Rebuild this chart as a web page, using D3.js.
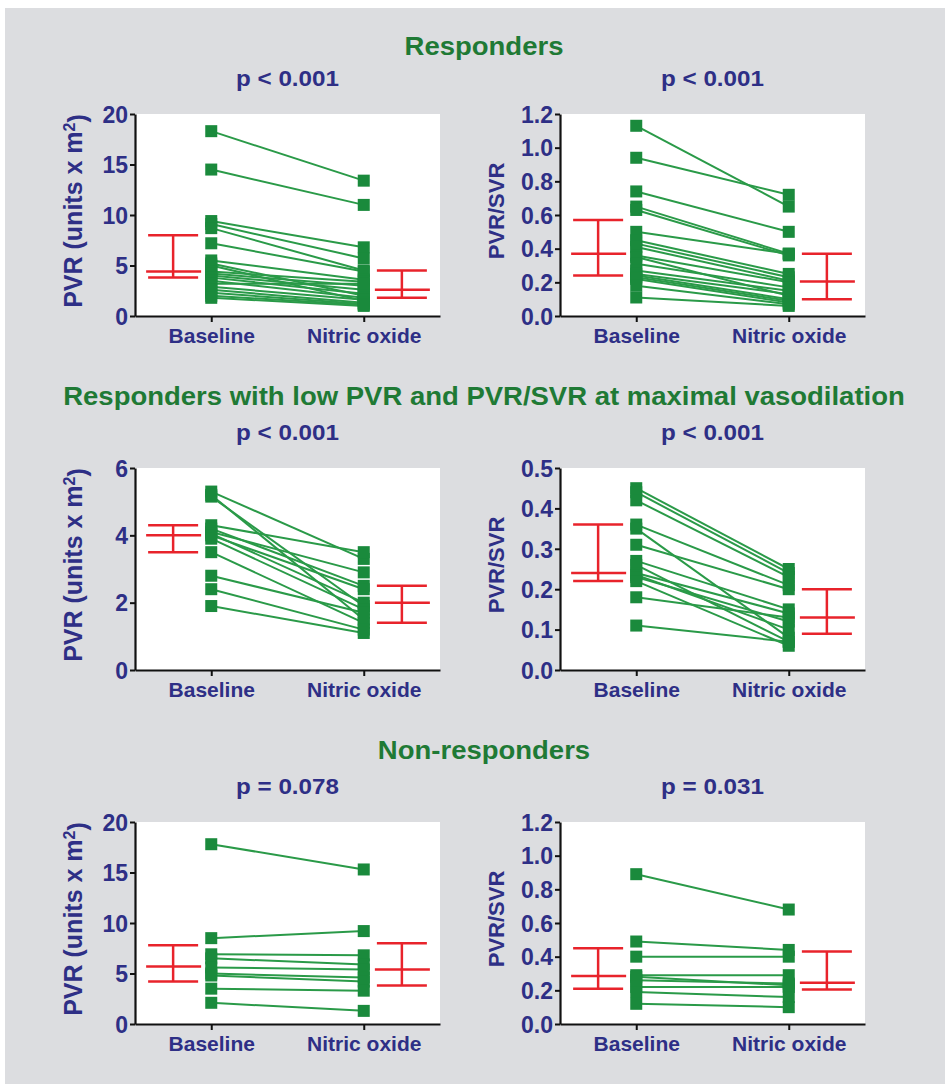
<!DOCTYPE html>
<html>
<head>
<meta charset="utf-8">
<script src="https://cdn.jsdelivr.net/npm/d3@7"></script>
<style>
  body { margin: 0; background: #fff; }
  svg { display: block; }
</style>
</head>
<body>
<div id="container"></div>
<script>
// --- data ---
var groups = ["Baseline", "Nitric oxide"];

// paired values [baseline, nitric oxide]
var respPVR = [[18.3, 13.4], [14.5, 11.0], [9.4, 6.8], [9.1, 5.7], [8.7, 4.5], [7.2, 4.4],
  [5.5, 3.6], [5.2, 2.0], [5.0, 1.5], [4.4, 3.4], [4.2, 3.0], [4.0, 2.6], [3.8, 2.2],
  [3.5, 1.8], [3.2, 3.2], [2.9, 1.6], [2.6, 1.3], [2.3, 1.2], [2.0, 1.1], [1.8, 1.0]];
var respRatio = [[1.13, 0.65], [0.94, 0.72], [0.74, 0.50], [0.65, 0.37], [0.63, 0.36],
  [0.50, 0.37], [0.45, 0.25], [0.43, 0.23], [0.41, 0.21], [0.36, 0.20], [0.35, 0.12],
  [0.31, 0.17], [0.27, 0.15], [0.25, 0.13], [0.24, 0.10], [0.23, 0.09], [0.22, 0.08],
  [0.18, 0.07], [0.11, 0.06]];
var lowPVR = [[5.3, 3.3], [5.2, 1.5], [5.15, 1.9], [4.3, 3.5], [4.2, 2.5], [4.1, 2.9],
  [4.05, 2.0], [4.0, 2.4], [3.9, 1.8], [3.5, 1.4], [2.8, 1.7], [2.4, 1.2], [1.9, 1.1]];
var lowRatio = [[0.45, 0.25], [0.44, 0.24], [0.42, 0.23], [0.36, 0.21], [0.35, 0.08],
  [0.31, 0.20], [0.27, 0.15], [0.26, 0.07], [0.24, 0.14], [0.235, 0.10], [0.23, 0.12],
  [0.22, 0.06], [0.18, 0.13], [0.11, 0.07]];
var nonPVR = [[17.8, 15.3], [8.5, 9.2], [6.9, 6.8], [6.5, 5.9], [5.6, 5.4], [5.0, 4.6],
  [4.8, 4.2], [3.5, 3.3], [2.1, 1.3]];
var nonRatio = [[0.89, 0.68], [0.49, 0.44], [0.40, 0.40], [0.29, 0.29], [0.28, 0.23],
  [0.26, 0.24], [0.22, 0.22], [0.19, 0.16], [0.12, 0.10]];

// median + interquartile range [low, median, high] for baseline / nitric oxide
var respPVRStats = [[3.8, 4.4, 8.0], [1.8, 2.6, 4.5]];
var respRatioStats = [[0.24, 0.37, 0.57], [0.10, 0.205, 0.37]];
var lowPVRStats = [[3.5, 4.0, 4.3], [1.4, 2.0, 2.5]];
var lowRatioStats = [[0.22, 0.24, 0.36], [0.09, 0.13, 0.20]];
var nonPVRStats = [[4.2, 5.7, 7.8], [3.8, 5.4, 8.0]];
var nonRatioStats = [[0.21, 0.285, 0.45], [0.205, 0.245, 0.43]];

var sectionTitles = ["Responders", "Responders with low PVR and PVR/SVR at maximal vasodilation", "Non-responders"];
var pLabels = ["p < 0.001", "p < 0.001", "p < 0.001", "p < 0.001", "p = 0.078", "p = 0.031"];

var pvrTicks = [0, 5, 10, 15, 20];
var ratioTicks = [0, 0.2, 0.4, 0.6, 0.8, 1.0, 1.2];
var lowPvrTicks = [0, 2, 4, 6];
var lowRatioTicks = [0, 0.1, 0.2, 0.3, 0.4, 0.5];

// --- layout ---
var W = 945, H = 1084;
var navy = "#2e2f86", green = "#1f7a35", dotGreen = "#1a8a3c", lineGreen = "#2a9a48", red = "#e8232b";
var font = "'Liberation Sans', Arial, sans-serif";

var svg = d3.select("#container").append("svg")
  .attr("width", W).attr("height", H);

svg.append("rect").attr("x", 5).attr("y", 8).attr("width", W - 5).attr("height", H - 8)
  .attr("fill", "#dcdde0");

var colLeft = [135, 560];
var rowTop = [114, 468, 822];
var plotW = 305, plotH = 202;

var panels = [
  { data: respPVR, stats: respPVRStats, ticks: pvrTicks, max: 20, fmt: d3.format("d"), pvr: true },
  { data: respRatio, stats: respRatioStats, ticks: ratioTicks, max: 1.2, fmt: d3.format(".1f"), pvr: false },
  { data: lowPVR, stats: lowPVRStats, ticks: lowPvrTicks, max: 6, fmt: d3.format("d"), pvr: true },
  { data: lowRatio, stats: lowRatioStats, ticks: lowRatioTicks, max: 0.5, fmt: d3.format(".1f"), pvr: false },
  { data: nonPVR, stats: nonPVRStats, ticks: pvrTicks, max: 20, fmt: d3.format("d"), pvr: true },
  { data: nonRatio, stats: nonRatioStats, ticks: ratioTicks, max: 1.2, fmt: d3.format(".1f"), pvr: false }
];

// section titles (the original is a little stretched sideways)
var titleY = [55, 405, 759];
sectionTitles.forEach(function (t, i) {
  svg.append("text")
    .attr("transform", "translate(484," + titleY[i] + ") scale(1.1,1)")
    .attr("text-anchor", "middle")
    .style("font-family", font).style("font-weight", "bold")
    .style("font-size", "25px").style("fill", green)
    .text(t);
});

panels.forEach(function (p, i) {
  var col = i % 2, row = Math.floor(i / 2);
  var g = svg.append("g")
    .attr("transform", "translate(" + colLeft[col] + "," + rowTop[row] + ")");

  var x = d3.scaleLinear().domain([-0.5, 1.5]).range([0, plotW]);
  var y = d3.scaleLinear().domain([0, p.max]).range([plotH, 0]);

  // white plot area
  g.append("rect").attr("x", 0).attr("y", 0).attr("width", plotW).attr("height", plotH)
    .attr("fill", "#fff");

  // p value
  g.append("text")
    .attr("transform", "translate(" + (plotW / 2) + ",-28) scale(1.1,1)")
    .attr("text-anchor", "middle")
    .style("font-family", font).style("font-weight", "bold")
    .style("font-size", "22px").style("fill", navy)
    .text(pLabels[i]);

  // axes
  var yAxis = g.append("g").call(d3.axisLeft(y).tickValues(p.ticks).tickFormat(p.fmt)
    .tickSize(5).tickSizeOuter(0));
  var xAxis = g.append("g").attr("transform", "translate(0," + plotH + ")")
    .call(d3.axisBottom(x).tickValues([0, 1]).tickFormat(function (d) { return groups[d]; })
      .tickSize(6).tickSizeOuter(0));
  [yAxis, xAxis].forEach(function (a) {
    a.select(".domain").attr("stroke", "#111").attr("stroke-width", 2.2);
    a.selectAll(".tick line").attr("stroke", "#111").attr("stroke-width", 2);
    a.selectAll("text").style("font-family", font).style("font-weight", "bold")
      .attr("fill", navy);
  });
  yAxis.selectAll("text").attr("x", -7).attr("dy", "0.36em").style("font-size", "23px");
  xAxis.selectAll("text").attr("y", 12).attr("dy", "0.71em").style("font-size", "21px");

  // y label
  var lab = g.append("text")
    .attr("transform", "translate(" + (p.pvr ? -53 : -56) + "," + (plotH / 2 - 4) + ") rotate(-90)")
    .attr("text-anchor", "middle")
    .style("font-family", font).style("font-weight", "bold")
    .style("font-size", p.pvr ? "25px" : "22px").style("fill", navy);
  if (p.pvr) {
    lab.append("tspan").text("PVR (units x m");
    lab.append("tspan").attr("dy", "-0.45em").style("font-size", "16px").text("2");
    lab.append("tspan").attr("dy", "0.45em").text(")");
  } else {
    lab.text("PVR/SVR");
  }

  // paired lines
  g.selectAll(".pair").data(p.data).enter().append("line")
    .attr("x1", x(0)).attr("x2", x(1))
    .attr("y1", function (d) { return y(d[0]); })
    .attr("y2", function (d) { return y(d[1]); })
    .attr("stroke", lineGreen).attr("stroke-width", 2);

  // square markers
  var sq = 12;
  [0, 1].forEach(function (k) {
    g.selectAll(".pt" + k).data(p.data).enter().append("rect")
      .attr("x", x(k) - sq / 2)
      .attr("y", function (d) { return y(d[k]) - sq / 2; })
      .attr("width", sq).attr("height", sq)
      .attr("fill", dotGreen);
  });

  // median + IQR bars
  var statX = [-0.25, 1.25];
  p.stats.forEach(function (s, k) {
    var cx = x(statX[k]);
    var sg = g.append("g").attr("stroke", red).attr("stroke-width", 2.5);
    sg.append("line").attr("x1", cx).attr("x2", cx).attr("y1", y(s[0])).attr("y2", y(s[2]));
    sg.append("line").attr("x1", cx - 25).attr("x2", cx + 25).attr("y1", y(s[0])).attr("y2", y(s[0]));
    sg.append("line").attr("x1", cx - 25).attr("x2", cx + 25).attr("y1", y(s[2])).attr("y2", y(s[2]));
    sg.append("line").attr("x1", cx - 27).attr("x2", cx + 28).attr("y1", y(s[1])).attr("y2", y(s[1]));
  });
});
</script>
</body>
</html>
